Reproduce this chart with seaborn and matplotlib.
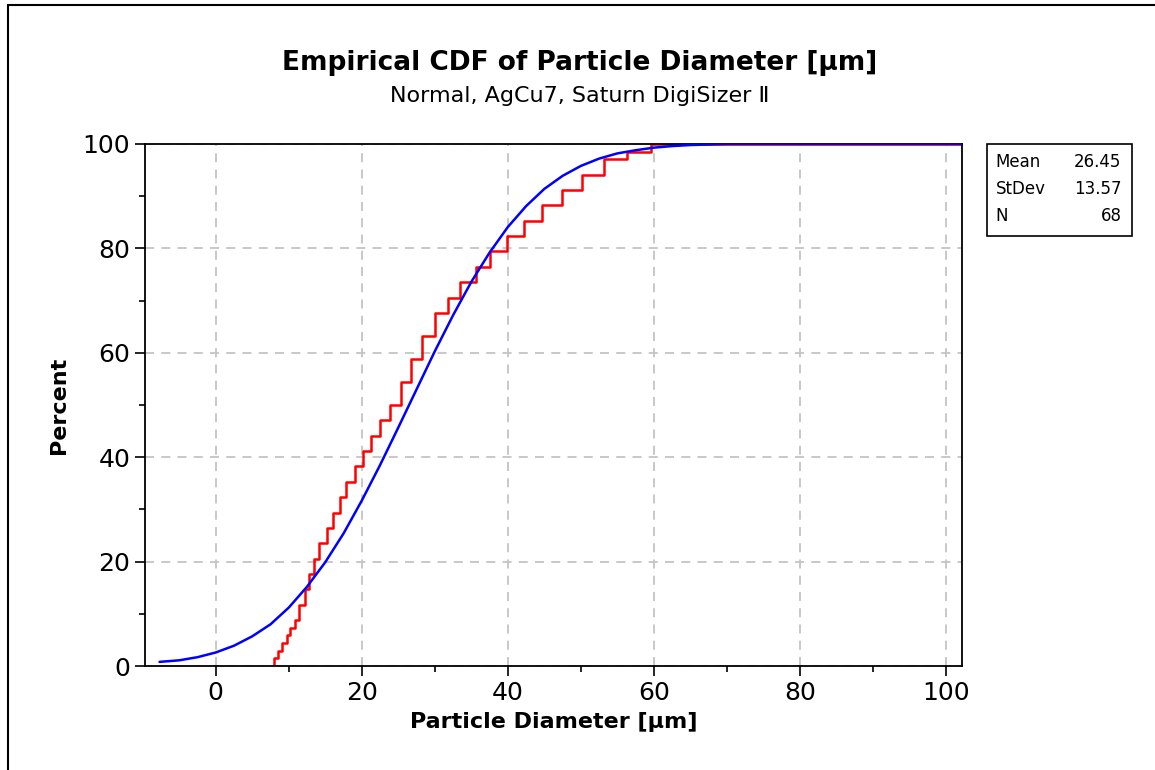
import numpy as np
import pandas as pd
import seaborn as sns
import matplotlib.pyplot as plt
from matplotlib.patches import Rectangle
from matplotlib.ticker import MultipleLocator

# particle diameters (um) where the empirical CDF steps, and how many particles sit at each
step_x = [7.95, 8.5, 9.1, 9.7, 10.2, 10.8, 11.4, 12.2, 12.7, 13.5, 14.2, 15.2,
          16.0, 17.0, 17.9, 19.0, 20.1, 21.2, 22.5, 23.8, 25.3, 26.7, 28.3, 30.0,
          31.8, 33.4, 35.7, 37.6, 39.9, 42.2, 44.7, 47.4, 50.2, 53.2, 56.3, 59.6]
step_n = [1, 1, 1, 1, 1, 1, 2, 2, 2, 2, 2, 2,
          2, 2, 2, 2, 2, 2, 2, 2, 3, 3, 3, 3,
          2, 2, 2, 2, 2, 2, 2, 2, 2, 2, 1, 1]

# fitted normal CDF (percent)
fit_x = [-7.7, -5, -2.5, 0, 2.5, 5, 7.5, 10, 12.5, 15, 17.5, 20, 22.5, 25, 27.5,
         30, 32.5, 35, 37.5, 40, 42.5, 45, 47.5, 50, 52.5, 55, 57.5, 60, 62.5,
         65, 67.5, 70, 102.2]
fit_pct = [0.8, 1.1, 1.7, 2.6, 3.9, 5.7, 8.0, 11.2, 15.2, 19.9, 25.4, 31.7, 38.5,
           45.7, 53.0, 60.3, 67.2, 73.6, 79.2, 84.1, 88.1, 91.4, 93.9, 95.8, 97.2,
           98.2, 98.8, 99.3, 99.6, 99.8, 99.9, 100.0, 100.0]

stat_labels = ["Mean", "StDev", "N"]
stat_values = ["26.45", "13.57", "68"]

diam = pd.DataFrame({"diam": np.repeat(step_x, step_n)})
fit = pd.DataFrame({"x": fit_x, "pct": fit_pct})

sns.set_style("ticks")
plt.rcParams['font.family'] = ['DejaVu Sans']
plt.rcParams.update({"text.color": "black", "axes.labelcolor": "black",
                     "xtick.color": "black", "ytick.color": "black"})

fig = plt.figure(figsize=(11.55, 7.7), dpi=100)
ax = fig.add_axes([0.1255, 0.135, 0.7074, 0.678])

sns.ecdfplot(data=diam, x="diam", stat="percent", color="red", linewidth=1.8, ax=ax)
# start the step at the first value and carry it to the right edge like Minitab
xs, ys = ax.lines[0].get_data()
xs = np.r_[xs[1], xs[1:], 102.2]
ys = np.r_[ys[:1], ys[1:], 100]
ax.lines[0].set_data(xs, ys)

sns.lineplot(data=fit, x="x", y="pct", color="blue", linewidth=1.8, ax=ax, zorder=3)

ax.set_xlim(-9.7, 102.2)
ax.set_ylim(0, 100)
ax.xaxis.set_major_locator(MultipleLocator(20))
ax.xaxis.set_minor_locator(MultipleLocator(10))
ax.yaxis.set_major_locator(MultipleLocator(20))
ax.yaxis.set_minor_locator(MultipleLocator(10))
ax.grid(True, which="major", color="#c4c4c4", linestyle=(0, (5, 4)), linewidth=1.3)
ax.tick_params(which="major", direction="out", length=7, width=1.2, labelsize=18)
ax.tick_params(which="minor", direction="out", length=4, width=1.2)
for s in ax.spines.values():
    s.set_color("black")
    s.set_linewidth(1.3)

ax.set_xlabel("Particle Diameter [µm]", fontsize=16, fontweight="bold", labelpad=5)
ax.set_ylabel("Percent", fontsize=16, fontweight="bold", labelpad=10)

fig.text(0.502, 0.918, "Empirical CDF of Particle Diameter [µm]", ha="center", va="center",
         fontsize=19, fontweight="bold")
fig.text(0.502, 0.875, "Normal, AgCu7, Saturn DigiSizer Ⅱ", ha="center", va="center", fontsize=16)

# summary box
fig.patches.append(Rectangle((0.8545, 0.6935), 0.1255, 0.1195, transform=fig.transFigure,
                             fill=False, edgecolor="black", linewidth=1.2))
for i, (lab, val) in enumerate(zip(stat_labels, stat_values)):
    yy = 0.7896 - i * 0.0351
    fig.text(0.862, yy, lab, ha="left", va="center", fontsize=12)
    fig.text(0.971, yy, val, ha="right", va="center", fontsize=12)

# outer frame of the graph window
fig.patches.append(Rectangle((0.0065, -1), 2, 1.9935, transform=fig.transFigure,
                             fill=False, edgecolor="black", linewidth=1.5))

fig.savefig("out.png", dpi=100)
